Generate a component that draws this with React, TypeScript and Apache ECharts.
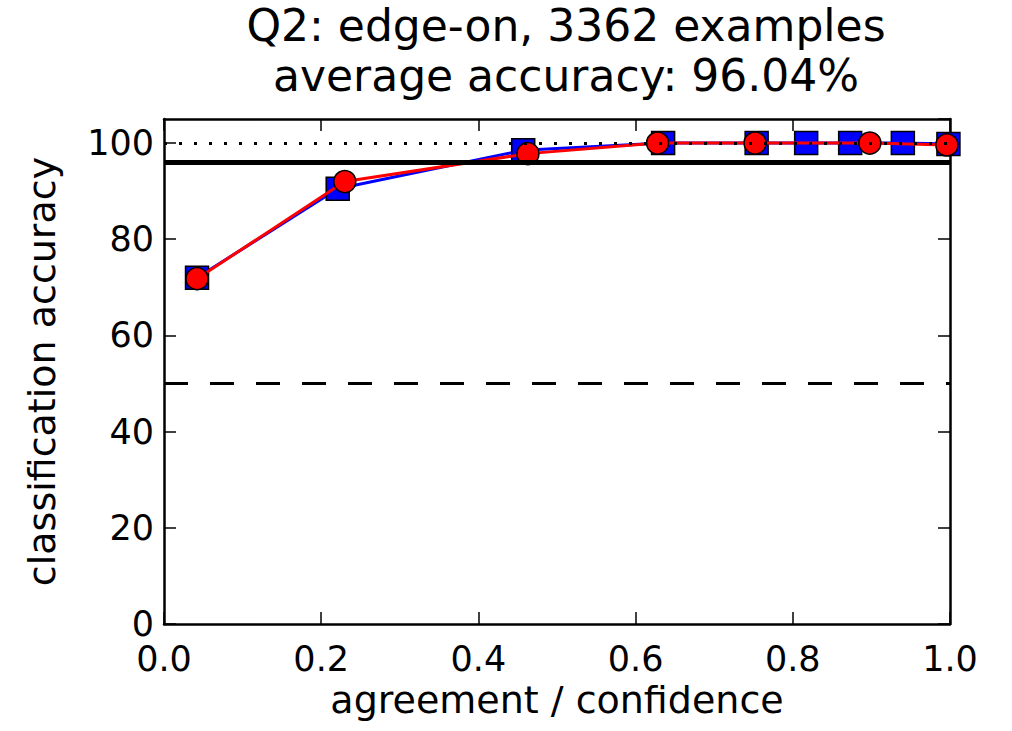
import React, { useEffect, useRef } from "react";
import * as echarts from "echarts";

const titleLines = ["Q2: edge-on, 3362 examples", "average accuracy: 96.04%"];
const xTicks = [0, 0.2, 0.4, 0.6, 0.8, 1.0];
const yTicks = [0, 20, 40, 60, 80, 100];

const agreementX = [0.042, 0.221, 0.457, 0.635, 0.754, 0.817, 0.873, 0.94, 0.998];
const agreementY = [72, 90.5, 98.5, 100, 100, 100, 100, 100, 99.8];

const confidenceX = [0.042, 0.23, 0.463, 0.628, 0.752, 0.898, 0.996];
const confidenceY = [71.8, 92, 97.8, 100, 100, 100, 99.6];

const refPerfect = 100;
const refAverage = 96.04;
const refChance = 50;

const FONT = "DejaVu Sans";

export default function App() {
  const ref = useRef<HTMLDivElement>(null);
  useEffect(() => {
    if (!ref.current) return;
    const chart = echarts.init(ref.current, null, { renderer: "svg" });
    const frame = { show: true, onZero: false, lineStyle: { color: "#000", width: 2.5 } };
    const tick = { show: true, inside: true, length: 12, lineStyle: { color: "#000", width: 1.5 } };
    const xBase = { type: "value", min: 0, max: 1, interval: 0.2, splitLine: { show: false }, axisLine: frame, axisTick: tick };
    const yBase = { type: "value", min: 0, max: 105, interval: 20, splitLine: { show: false }, axisLine: frame, axisTick: tick };
    chart.setOption({
      animation: false,
      backgroundColor: "#fff",
      textStyle: { fontFamily: FONT },
      graphic: [
        {
          type: "text",
          x: 566,
          y: 0,
          style: {
            text: titleLines.join("\n"),
            font: `44px '${FONT}'`,
            lineHeight: 50,
            fill: "#000",
            align: "center",
            verticalAlign: "top",
          },
        },
      ],
      grid: { left: 164, right: 62, top: 119, bottom: 107 },
      xAxis: [
        {
          ...xBase,
          position: "bottom",
          name: "agreement / confidence",
          nameLocation: "middle",
          nameGap: 57,
          nameTextStyle: { fontSize: 38, color: "#000", fontFamily: FONT },
          axisLabel: {
            fontSize: 35,
            color: "#000",
            fontFamily: FONT,
            margin: 35,
            verticalAlign: "middle",
            formatter: (v: number) => (xTicks.includes(Math.round(v * 10) / 10) ? v.toFixed(1) : ""),
          },
        },
        { ...xBase, position: "top", axisLabel: { show: false } },
      ],
      yAxis: [
        {
          ...yBase,
          position: "left",
          name: "classification accuracy",
          nameLocation: "middle",
          nameRotate: 90,
          nameGap: 103,
          nameTextStyle: { fontSize: 38, color: "#000", fontFamily: FONT },
          axisLabel: {
            fontSize: 35,
            color: "#000",
            fontFamily: FONT,
            margin: 10,
            showMaxLabel: false,
            formatter: (v: number) => (yTicks.includes(v) ? String(v) : ""),
          },
        },
        { ...yBase, position: "right", axisLabel: { show: false } },
      ],
      series: [
        {
          type: "line",
          data: agreementX.map((x, i) => [x, agreementY[i]]),
          symbol: "rect",
          symbolSize: 23,
          lineStyle: { color: "#0000ff", width: 3 },
          itemStyle: { color: "#0000ff", borderColor: "#000", borderWidth: 1.5 },
          z: 2,
        },
        {
          type: "line",
          data: confidenceX.map((x, i) => [x, confidenceY[i]]),
          symbol: "circle",
          symbolSize: 22,
          lineStyle: { color: "#ff0000", width: 3 },
          itemStyle: { color: "#ff0000", borderColor: "#000", borderWidth: 1.5 },
          z: 3,
        },
        {
          type: "line",
          data: [],
          z: 10,
          markLine: {
            silent: true,
            symbol: ["none", "none"],
            label: { show: false },
            data: [
              { yAxis: refPerfect, lineStyle: { color: "#000", width: 3, type: [3, 12] } },
              { yAxis: refAverage, lineStyle: { color: "#000", width: 5, type: "solid" } },
              { yAxis: refChance, lineStyle: { color: "#000", width: 3, type: [24, 22] } },
            ],
          },
        },
      ],
    });
    return () => chart.dispose();
  }, []);
  return <div ref={ref} style={{ position: "fixed", left: 0, top: 0, width: 1012, height: 731 }} />;
}
